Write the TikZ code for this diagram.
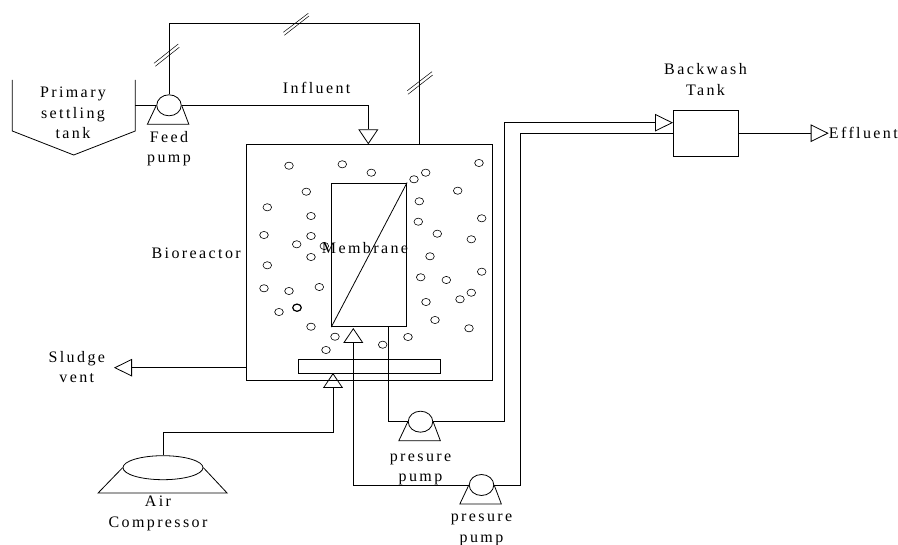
\documentclass[tikz,border=0pt]{standalone}
\usepackage{fontspec}
\setmainfont[LetterSpace=15,Ligatures=NoCommon]{Liberation Serif}
\usetikzlibrary{shapes.geometric, arrows.meta, positioning}
\tikzset{
  vessel/.style={rectangle, draw, inner sep=0pt, line width=0.8pt},
  pumphead/.style={ellipse, draw, inner sep=0pt, line width=0.8pt,
                   minimum width=24.5pt, minimum height=21pt},
  bubble/.style={ellipse, draw, inner sep=0pt, line width=0.6pt,
                 minimum width=8.6pt, minimum height=7.2pt},
  txt/.style={align=center, inner sep=0pt,
              font=\fontsize{16}{20.5}\selectfont},
  pipe/.style={line width=0.8pt},
  feedarr/.style={pipe, -{Triangle[open, length=15pt, width=20pt, line width=0.8pt, sep=0pt]}},
  sidearr/.style={pipe, -{Triangle[open, length=18pt, width=17.5pt, line width=0.8pt, sep=0pt]}},
  brk/.style={line width=0.5pt},
}

\begin{document}
\begin{tikzpicture}[x=1pt, y=-1pt]

  \useasboundingbox (0,0) rectangle (898,545);

  \def\PumpFoot#1{\draw[pipe] (#1.west) -- ++(-9,19) -- ++(41.5,0) -- (#1.east);}

  \node[vessel, minimum width=246pt, minimum height=236pt] (bioreactor) at (369.3,262.3) {};
  \node[vessel, minimum width=75pt, minimum height=143.7pt] (membrane) at (369.2,254.8) {};
  \node[vessel, minimum width=142pt, minimum height=13.3pt] (diffuser) at (369,366.4) {};
  \node[vessel, minimum width=65pt, minimum height=46.3pt] (backwash) at (705.5,133.2) {};
  \draw[pipe] (membrane.south west) -- (membrane.north east);

  \foreach \bx/\by [count=\i] in {
    289/165.7, 342.3/164.3, 371.3/172.7, 414/179.3, 425.7/172.7, 479/163,
    306.3/191.7, 457.7/190.7, 267.3/207.3, 419.3/201.3, 311/216, 418.3/221.7,
    481.7/218.3, 264/235, 311/236, 437.3/233.7, 471.3/239.3, 296.7/244.3,
    324.3/246, 311/257, 430/256.3, 267.3/265.3, 481.7/271.7, 420.7/277.3,
    446.3/280, 264/288.3, 289/291, 319.3/287, 471.3/292.7, 460/299.3,
    426/302, 279/312, 311/326.7, 435/320, 469/328.3, 335/336.7,
    408/337, 382.7/344.7, 326/350}
    \node[bubble] (bub\i) at (\bx,\by) {};
  \node[bubble, line width=1.2pt] (bubthick) at (297,307.7) {};

  \node[txt] (membranelbl) at (365,247.7) {Membrane};
  \node[txt, anchor=east] (bioreactorlbl) at (241,253) {Bioreactor};

  \draw[pipe] (12.3,80) -- (12.3,131) -- (73.7,155) -- (135.3,131) -- (135.3,80);
  \coordinate (settlingport) at (135.3,105.3);
  \node[txt] (settlinglbl) at (73,113) {Primary\\settling\\tank};

  \node[pumphead] (feedpump) at (169,105.3) {};
  \PumpFoot{feedpump}
  \node[txt, below=15pt of feedpump] (feedlbl) {Feed\\pump};
  \draw[pipe] (settlingport) -- (feedpump.west);
  \coordinate (influentport) at (368.3,144.3);
  \draw[feedarr] (feedpump.east) -| (influentport);
  \node[txt] (influentlbl) at (316.7,88) {Influent};

  \coordinate (recycleport) at (419,144.3);
  \coordinate (recycletop) at (169,23.7);
  \draw[pipe] (feedpump.north) -- (recycletop) -| (recycleport);
  \draw[brk] (154,63.3) -- (178.3,44) (155.3,66.3) -- (179.3,47.3);
  \draw[brk] (283.3,32.3) -- (308.3,13.3) (284.3,35.3) -- (309,16);
  \draw[brk] (407.3,90.7) -- (432,71.7) (408,94.3) -- (432.7,75);

  \node[pumphead] (presurea) at (420.5,421.7) {};
  \PumpFoot{presurea}
  \node[txt, below=21pt of presurea] (presurealbl) {presure\\pump};
  \node[pumphead] (presureb) at (481.5,485) {};
  \PumpFoot{presureb}
  \node[txt, below=18pt of presureb] (presureblbl) {presure\\pump};

  \coordinate (membraneout) at (388,326.7);
  \coordinate (membranein) at (353.3,328);
  \coordinate (backwashin) at (673,122.7);
  \draw[pipe] (membraneout) |- (presurea.west);
  \draw[sidearr] (presurea.east) -| (504.6,122.7) -- (backwashin);
  \draw[feedarr] (presureb.west) -| (membranein);
  \draw[pipe] (presureb.east) -| (520.5,133.2) -- (backwash.west);

  \coordinate (effluentend) at (828.7,133.2);
  \draw[sidearr] (backwash.east) -- (effluentend);
  \node[txt, right=0pt of effluentend] (effluentlbl) {Effluent};
  \node[txt, above=14pt of backwash] (backwashlbl) {Backwash\\Tank};

  \coordinate (sludgeend) at (114,367.7);
  \draw[sidearr] (bioreactor.west |- sludgeend) -- (sludgeend);
  \node[txt] (sludgelbl) at (76.8,367) {Sludge\\vent};

  \node[ellipse, draw, inner sep=0pt, line width=0.8pt,
        minimum width=80pt, minimum height=24pt] (compressor) at (163,467.7) {};
  \draw[pipe] (compressor.west) -- ++(-24.5,25.3) -- ++(129,0) -- (compressor.east);
  \node[txt] (compressorlbl) at (158,513.5) {Air\\Compressor};
  \coordinate (diffuserin) at (333,373);
  \draw[feedarr] (compressor.north) |- (333,432) -- (diffuserin);

\end{tikzpicture}
\end{document}
